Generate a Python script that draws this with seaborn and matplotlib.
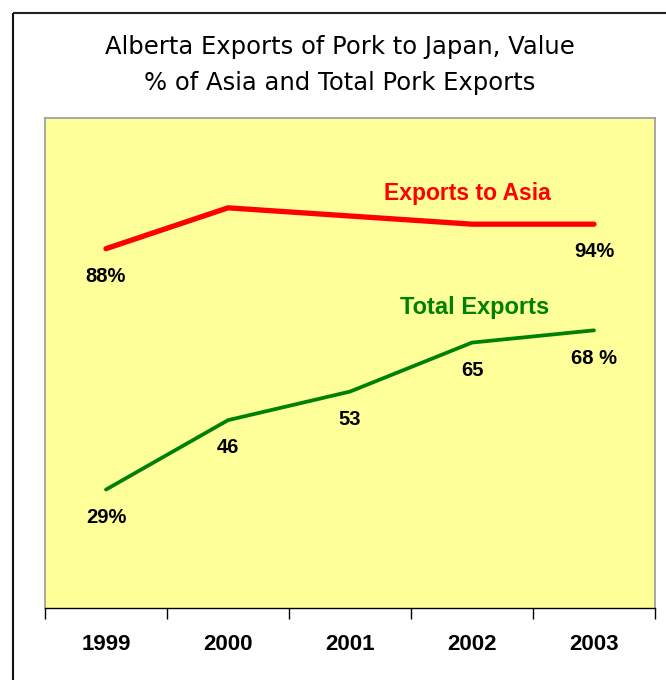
import matplotlib
matplotlib.use("Agg")
import matplotlib.pyplot as plt
from matplotlib.lines import Line2D
from matplotlib.ticker import FixedLocator
import seaborn as sns
import pandas as pd

years = ["1999", "2000", "2001", "2002", "2003"]
asia_share = [88, 98, 96, 94, 94]
total_share = [29, 46, 53, 65, 68]
asia_labels = ["88%", "", "", "", "94%"]
total_labels = ["29%", "46", "53", "65", "68 %"]
title_lines = ["Alberta Exports of Pork to Japan, Value", "% of Asia and Total Pork Exports"]
series_names = ["Exports to Asia", "Total Exports"]

pos = list(range(len(years)))
df = pd.DataFrame({
    "pos": pos * 2,
    "value": asia_share + total_share,
    "series": [series_names[0]] * len(years) + [series_names[1]] * len(years),
})

sns.set_theme(style="white")
plt.rcParams["font.family"] = ["Liberation Sans", "DejaVu Sans"]

W, H = 666, 680
fig = plt.figure(figsize=(W / 100, H / 100), dpi=100)
ax = fig.add_axes([45 / W, (H - 608) / H, (655 - 45) / W, (608 - 118) / H])
ax.set_facecolor("#FFFF99")

red, green = "#FF0000", "#008000"
sns.lineplot(data=df[df.series == series_names[0]], x="pos", y="value", color=red,
             linewidth=3.8, ax=ax, legend=False)
sns.lineplot(data=df[df.series == series_names[1]], x="pos", y="value", color=green,
             linewidth=2.7, ax=ax, legend=False)

ax.set_xlim(-0.5, len(years) - 0.5)
ax.set_ylim(0, 120)
ax.set_xlabel("")
ax.set_ylabel("")
ax.set_yticks([])
ax.set_xticks(pos)
ax.set_xticklabels(years, fontsize=16, fontweight="bold", color="black")
ax.xaxis.set_minor_locator(FixedLocator([p - 0.5 for p in pos] + [len(years) - 0.5]))
ax.tick_params(axis="x", which="major", length=0, pad=19)
ax.tick_params(axis="x", which="minor", length=8, width=1, color="black", direction="out", bottom=True)

for s in ["left", "top", "right"]:
    ax.spines[s].set_color("#9A9A9A")
    ax.spines[s].set_linewidth(1.2)
ax.spines["bottom"].set_color("black")
ax.spines["bottom"].set_linewidth(1)

for p, v, lab in zip(pos, asia_share, asia_labels):
    if lab:
        ax.annotate(lab, (p, v), xytext=(0, -20), textcoords="offset points",
                    ha="center", va="center", fontsize=14.5, fontweight="bold", color="black")
for p, v, lab in zip(pos, total_share, total_labels):
    ax.annotate(lab, (p, v), xytext=(0, -20), textcoords="offset points",
                ha="center", va="center", fontsize=14.5, fontweight="bold", color="black")

ax.text(2.96, 101.5, series_names[0], ha="center", va="center", fontsize=16.5,
        fontweight="bold", color=red)
ax.text(3.02, 73.5, series_names[1], ha="center", va="center", fontsize=17,
        fontweight="bold", color=green)

fig.text(340 / W, 1 - 47 / H, title_lines[0], ha="center", va="center",
         fontsize=17.5, family="DejaVu Sans", color="black")
fig.text(340 / W, 1 - 83 / H, title_lines[1], ha="center", va="center",
         fontsize=17.5, family="DejaVu Sans", color="black")

fig.add_artist(Line2D([12.5 / W, 1], [1 - 12.5 / H, 1 - 12.5 / H], transform=fig.transFigure,
                      color="#222222", linewidth=1.5, solid_capstyle="butt"))
fig.add_artist(Line2D([12.5 / W, 12.5 / W], [0, 1 - 12.5 / H], transform=fig.transFigure,
                      color="#111111", linewidth=1.5, solid_capstyle="butt"))

fig.savefig("out.png", dpi=100, facecolor="white")
